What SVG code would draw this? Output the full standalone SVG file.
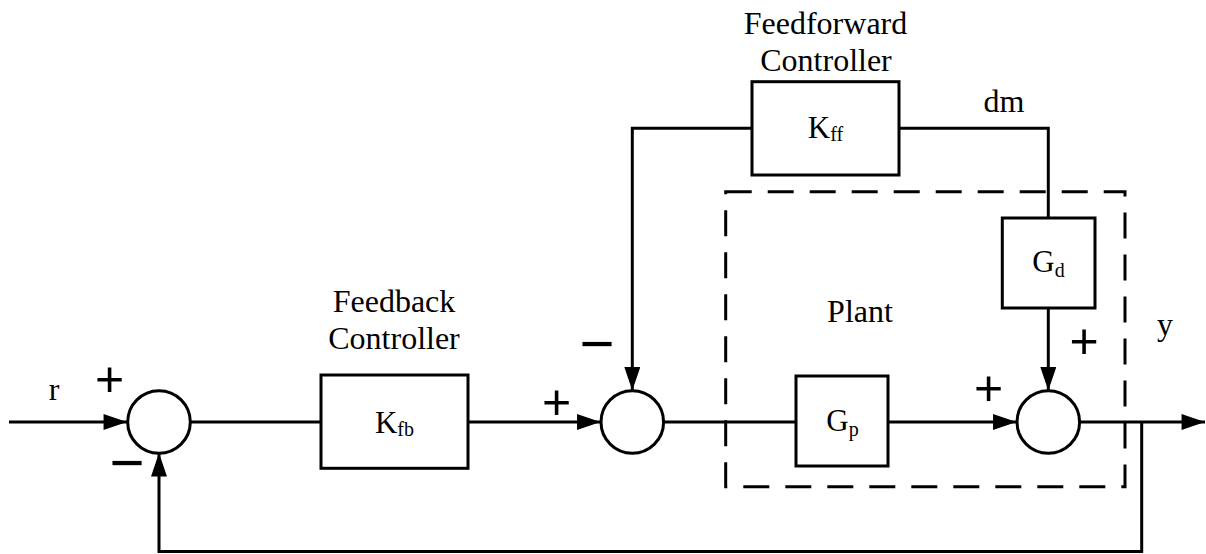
<svg xmlns="http://www.w3.org/2000/svg" width="1206" height="554" viewBox="0 0 1206 554">
<style>
.bg{fill:#fff}
.box{fill:#fff;stroke:#000;stroke-width:3}
.sum{fill:#fff;stroke:#000;stroke-width:3}
.wire{fill:none;stroke:#000;stroke-width:3}
.dash{fill:none;stroke:#000;stroke-width:3;stroke-dasharray:26 16}
.t{font-family:"Liberation Serif","Times New Roman",serif;font-size:32px;fill:#000;text-anchor:middle}
.m{font-family:"Liberation Serif","Times New Roman",serif;font-size:31px;fill:#000;text-anchor:middle}
.sub{font-size:20px}
.sg{font-family:"Liberation Sans",Arial,sans-serif;font-size:50px;fill:#000;text-anchor:middle}
.mn{font-family:"Liberation Sans",Arial,sans-serif;font-size:60px;fill:#000;text-anchor:middle}
</style>
<defs>
<marker id="arr" markerUnits="userSpaceOnUse" markerWidth="24" markerHeight="16" viewBox="0 0 22 15" refX="22" refY="7.5" orient="auto">
<path d="M0,0 L22,7.5 L0,15 Z" fill="#000"/>
</marker>
</defs>
<rect class="bg" x="0" y="0" width="1206" height="554"/>

<g id="plant-boundary">
<rect class="dash" x="725.7" y="191.7" width="399.3" height="295"/>
<text class="t" x="860" y="322">Plant</text>
</g>

<g id="connectors">
<path class="wire" d="M9,422 H127" marker-end="url(#arr)"/>
<path class="wire" d="M191,422 H321"/>
<path class="wire" d="M468,422 H600.5" marker-end="url(#arr)"/>
<path class="wire" d="M664,422 H796"/>
<path class="wire" d="M888,422 H1016.5" marker-end="url(#arr)"/>
<path class="wire" d="M1080,422 H1205" marker-end="url(#arr)"/>
<path class="wire" d="M1141.7,422 V551.5 H159 V453" marker-end="url(#arr)"/>
<path class="wire" d="M752,128.3 H632.3 V390.5" marker-end="url(#arr)"/>
<path class="wire" d="M899,128.3 H1048.3 V218"/>
<path class="wire" d="M1048.3,308 V390.5" marker-end="url(#arr)"/>
</g>

<g id="sum1">
<circle class="sum" cx="159" cy="422" r="31.3"/>
<text class="sg" x="109.5" y="395.5">+</text>
<text class="mn" x="127" y="483">−</text>
</g>

<g id="sum2">
<circle class="sum" cx="632.3" cy="422" r="31.3"/>
<text class="sg" x="556.5" y="418.5">+</text>
<text class="mn" x="597" y="363.5">−</text>
</g>

<g id="sum3">
<circle class="sum" cx="1048.3" cy="422" r="31.3"/>
<text class="sg" x="988.5" y="405">+</text>
<text class="sg" x="1084" y="357.5">+</text>
</g>

<g id="Kfb">
<rect class="box" x="321" y="375" width="147" height="93.3"/>
<text class="m" x="394.5" y="433">K<tspan class="sub" dy="3">fb</tspan></text>
<text class="t" x="394" y="312">Feedback</text>
<text class="t" x="394" y="348.5">Controller</text>
</g>

<g id="Kff">
<rect class="box" x="752" y="81.7" width="147" height="93.3"/>
<text class="m" x="825.5" y="138.3">K<tspan class="sub" dy="3">ff</tspan></text>
<text class="t" x="825.5" y="33.5">Feedforward</text>
<text class="t" x="826" y="71">Controller</text>
</g>

<g id="Gp">
<rect class="box" x="796" y="376" width="92" height="90"/>
<text class="m" x="842.5" y="431">G<tspan class="sub" dy="5">p</tspan></text>
</g>

<g id="Gd">
<rect class="box" x="1002.3" y="218" width="92.7" height="90"/>
<text class="m" x="1048.5" y="271.5">G<tspan class="sub" dy="5">d</tspan></text>
</g>

<g id="labels">
<text class="t" x="54" y="400">r</text>
<text class="t" x="1004" y="112">dm</text>
<text class="t" x="1165" y="335">y</text>
</g>
</svg>
